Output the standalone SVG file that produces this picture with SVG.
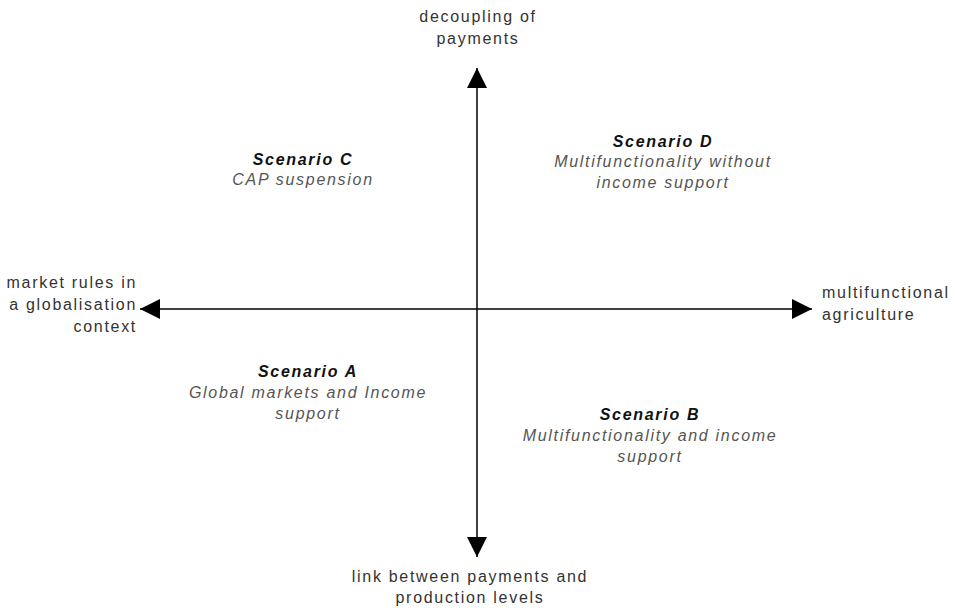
<svg xmlns="http://www.w3.org/2000/svg" width="956" height="608" viewBox="0 0 956 608">
<style>
text{font-family:"Liberation Sans",Arial,sans-serif;font-size:16px;letter-spacing:1.7px}
.ax{fill:#333}
.t{fill:#111;font-weight:bold;font-style:italic;text-anchor:middle}
.s{fill:#555;font-style:italic;text-anchor:middle}
.c{text-anchor:middle}
.e{text-anchor:end}
.line{stroke:#000;stroke-width:1.5;fill:none}
</style>
<defs>
<marker id="ah" viewBox="0 0 20 20" refX="20" refY="10" markerWidth="20" markerHeight="20" markerUnits="userSpaceOnUse" orient="auto">
<path d="M0,0 L20,10 L0,20 Z" fill="#000"/>
</marker>
</defs>
<rect width="956" height="608" fill="#fff"/>
<g id="connectors">
<line class="line" x1="477" y1="309" x2="477" y2="68" marker-end="url(#ah)"/>
<line class="line" x1="477" y1="309" x2="477" y2="557" marker-end="url(#ah)"/>
<line class="line" x1="477" y1="309" x2="140" y2="309" marker-end="url(#ah)"/>
<line class="line" x1="477" y1="309" x2="812" y2="309" marker-end="url(#ah)"/>
</g>
<g id="top-label">
<text class="ax c" x="478" y="22">decoupling of</text>
<text class="ax c" x="478" y="44">payments</text>
</g>
<g id="bottom-label">
<text class="ax c" x="470" y="582">link between payments and</text>
<text class="ax c" x="470" y="603">production levels</text>
</g>
<g id="left-label">
<text class="ax e" x="137" y="288">market rules in</text>
<text class="ax e" x="137" y="310">a globalisation</text>
<text class="ax e" x="137" y="332">context</text>
</g>
<g id="right-label">
<text class="ax" x="822" y="298">multifunctional</text>
<text class="ax" x="822" y="320">agriculture</text>
</g>
<g id="scenario-c">
<text class="t" x="303" y="165">Scenario C</text>
<text class="s" x="303" y="185">CAP suspension</text>
</g>
<g id="scenario-d">
<text class="t" x="663" y="147">Scenario D</text>
<text class="s" x="663" y="167">Multifunctionality without</text>
<text class="s" x="663" y="188">income support</text>
</g>
<g id="scenario-a">
<text class="t" x="308" y="377">Scenario A</text>
<text class="s" x="308" y="398">Global markets and Income</text>
<text class="s" x="308" y="419">support</text>
</g>
<g id="scenario-b">
<text class="t" x="650" y="420">Scenario B</text>
<text class="s" x="650" y="441">Multifunctionality and income</text>
<text class="s" x="650" y="462">support</text>
</g>
</svg>
